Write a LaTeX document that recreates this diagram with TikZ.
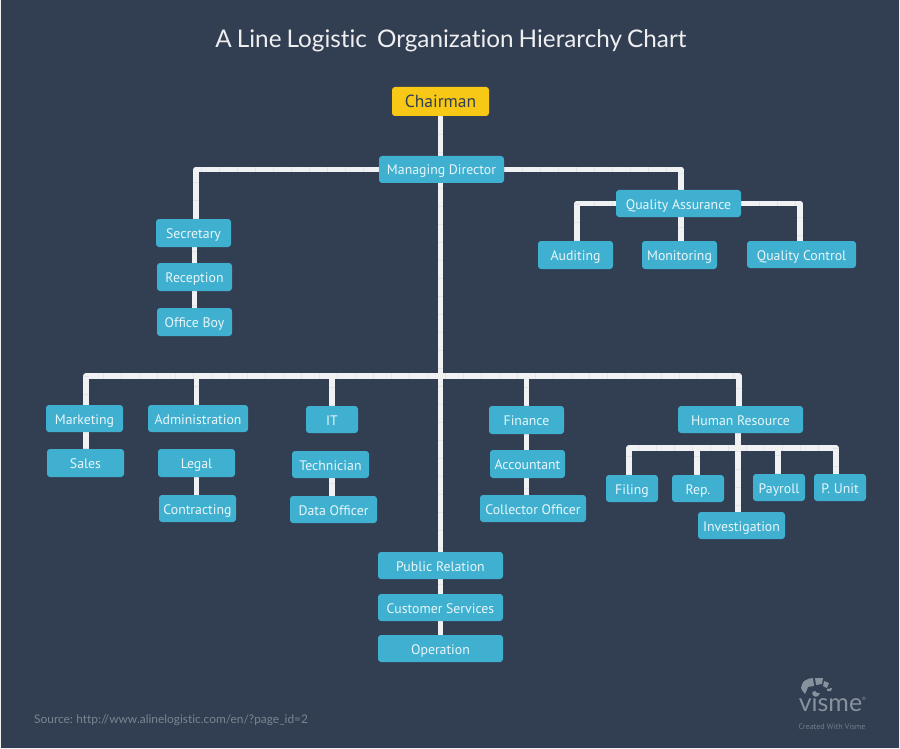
\documentclass[tikz,border=0pt]{standalone}
\usepackage{fontspec}
\setmainfont{PT Sans}
\newfontfamily\titlefont[Ligatures=NoCommon, WordSpace=0.8]{Lato}
\usetikzlibrary{arrows.meta, positioning, calc, backgrounds}
\definecolor{slatebg}{RGB}{50, 62, 81}
\definecolor{boxblue}{RGB}{64, 176, 208}
\definecolor{boxtext}{RGB}{232, 246, 250}
\definecolor{chairgold}{RGB}{247, 200, 22}
\definecolor{linewhite}{RGB}{240, 241, 243}
\definecolor{linetick}{RGB}{226, 228, 231}
\definecolor{logogray}{RGB}{136, 146, 158}

\begin{document}
\begin{tikzpicture}[
  x=1pt, y=-1pt,
  post/.style={fill=boxblue, text=boxtext, rounded corners=3pt, font=\fontsize{13.8}{16}\selectfont, minimum height=27pt, inner sep=0pt, text height=11pt, text depth=0pt, align=center},
  head/.style={fill=chairgold, text=slatebg, rounded corners=3pt, font=\fontsize{17.5}{20}\selectfont, minimum height=29pt, minimum width=97pt, inner sep=0pt, text height=13pt, text depth=0pt},
  conn/.style={linewhite, line width=5.5pt, line join=round, postaction={draw=linetick, line width=5.5pt, dash pattern=on 0.6pt off 17.4pt}},
]
  \useasboundingbox (0,0) rectangle (900,749);
  \begin{scope}[on background layer]
    \fill[linewhite] (0,0) rectangle (900,749);
    \fill[slatebg] (1,0.5) rectangle (899,748);
  \end{scope}

  \node[text=white!92!slatebg, font=\titlefont\fontsize{24.3}{28}\selectfont] (title) at (451,41) {A Line Logistic\ \ Organization Hierarchy Chart};

  \node[head] (chair) at (440.5,101.5) {Chairman};
  \node[post, minimum width=125pt] (md) at (441.5,169.5) {Managing Director};

  % upper right
  \node[post, minimum width=125pt] (qa) at (678.5,203.5) {Quality Assurance};
  \node[post, minimum width=75pt, minimum height=28pt] (aud) at (575.5,255) {Auditing};
  \node[post, minimum width=75pt, minimum height=28pt] (mon) at (679.5,255) {Monitoring};
  \node[post, minimum width=109pt] (qc) at (801.5,254.5) {Quality Control};

  % upper left
  \node[post, minimum width=75pt, minimum height=28pt] (sec) at (193.5,233) {Secretary};
  \node[post, minimum width=75pt, minimum height=28pt] (rec) at (194.5,277) {Reception};
  \node[post, minimum width=75pt, minimum height=28pt] (off) at (194.5,322) {Office Boy};

  % lower columns
  \node[post, minimum width=77pt] (mkt) at (84.5,418.5) {Marketing};
  \node[post, minimum width=77pt, minimum height=28pt] (sal) at (85.5,463) {Sales};
  \node[post, minimum width=100pt] (adm) at (198,418.5) {Administration};
  \node[post, minimum width=77pt, minimum height=28pt] (leg) at (196.5,463) {Legal};
  \node[post, minimum width=77pt] (con) at (197.5,508.5) {Contracting};
  \node[post, minimum width=52pt] (it) at (332,419.5) {IT};
  \node[post, minimum width=77pt] (tec) at (330.5,464.5) {Technician};
  \node[post, minimum width=87pt] (dat) at (333.5,509.5) {Data Officer};
  \node[post, minimum width=75pt, minimum height=28pt] (fin) at (526.5,420) {Finance};
  \node[post, minimum width=75pt, minimum height=28pt] (acc) at (527.5,464) {Accountant};
  \node[post, minimum width=106pt] (col) at (533,508.5) {Collector Officer};
  \node[post, minimum width=125pt] (hr) at (740.5,419.5) {Human Resource};

  % human resource row
  \node[post, minimum width=52pt] (fil) at (632,488.5) {Filing};
  \node[post, minimum width=52pt] (rep) at (698,488.5) {Rep.};
  \node[post, minimum width=52pt] (pay) at (779,487.5) {Payroll};
  \node[post, minimum width=52pt] (pun) at (840,487.5) {P. Unit};
  \node[post, minimum width=87pt] (inv) at (741.5,525.5) {Investigation};

  % centre column
  \node[post, minimum width=125pt] (pub) at (440.5,565.5) {Public Relation};
  \node[post, minimum width=125pt] (cus) at (440.5,607.5) {Customer Services};
  \node[post, minimum width=125pt] (ope) at (440.5,648.5) {Operation};

  % bus ends
  \coordinate (hub) at (441,376);
  \coordinate (mdL) at (196,169.5);
  \coordinate (mdR) at (681,169.5);
  \coordinate (qaL) at (577,203.5);
  \coordinate (qaR) at (800,203.5);
  \coordinate (busL) at (86,376);
  \coordinate (busR) at (739,376);
  \coordinate (hrL) at (629,448);
  \coordinate (hrR) at (836,448);

  \begin{scope}[on background layer]
    \draw[conn] (chair) -- (chair |- ope);
    \draw[conn] (sec.north -| mdL) -- (mdL) -- (md) -- (mdR) -- (mon.north -| mdR);
    \draw[conn] (aud.north -| qaL) -- (qaL) -- (qa) -- (qaR) -- (qc.north -| qaR);
    \draw[conn] (rec |- sec) -- (off);
    \draw[conn] (sal.north -| busL) -- (busL) -- (busR) -- (hr.north -| busR);
    \draw[conn] (adm.north -| leg) -- (leg |- hub);
    \draw[conn] (leg) -- (leg |- con);
    \draw[conn] (it) -- (it |- hub);
    \draw[conn] (it |- tec) -- (it |- dat);
    \draw[conn] (fin) -- (fin |- hub);
    \draw[conn] (fin) -- (fin |- col);
    \draw[conn] (rep.north -| 697,0) -- (697,448);
    \draw[conn] (pay.north -| 778,0) -- (778,448);
    \draw[conn] (fil.north -| hrL) -- (hrL) -- (hrR) -- (pun.north -| hrR);
    \draw[conn] (hr.south -| 738,0) -- (inv.north -| 738,0);
  \end{scope}

  % logo
  \fill[logogray] (801,688) .. controls (802,684) and (803,682) .. (804,681) .. controls (807,679) and (810,678) .. (813,678) -- (814,686) .. controls (811,686) and (809,687) .. (808,687) .. controls (807,690) and (806,692) .. (805,694) .. controls (803,692) and (802,690) .. (801,688) -- cycle;
  \fill[logogray] (815,678) -- (823,678) -- (822,684) -- (816,685) -- cycle;
  \fill[logogray] (824,681) -- (829,683) -- (827,688) -- (823,686) -- cycle;
  \fill[logogray] (827,689) -- (832,688) -- (831,691) -- (827,691) -- cycle;
  \fill[logogray] (812,693) .. controls (813,697) and (818,699) .. (820,693) .. controls (818,694) and (816,693) .. (815,691) .. controls (814,691) and (813,692) .. (812,693) -- cycle;
  \node[text=logogray, font=\titlefont\fontsize{25}{26}\selectfont] (vis) at (830.5,702) {visme};
  \node[text=logogray, font=\fontsize{6}{7}\selectfont] (reg) at (864,699) {\textregistered};
  \node[text=logogray!75!slatebg, font=\fontsize{8}{10}\selectfont] (made) at (832,727) {Created With Visme};

  \node[text=logogray!85!slatebg, font=\titlefont\fontsize{11.9}{15}\selectfont, anchor=west, inner sep=0pt] (src) at (34,720.5) {Source: http://www.alinelogistic.com/en/?page\_id=2};
\end{tikzpicture}
\end{document}
